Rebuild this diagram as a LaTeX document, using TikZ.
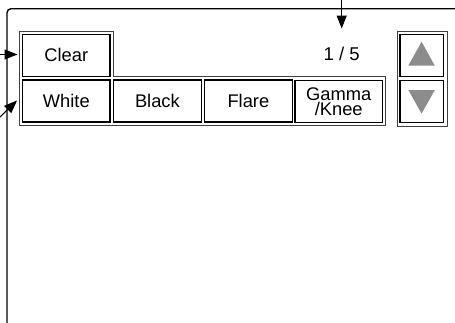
\documentclass[tikz,border=0pt]{standalone}
\usepackage{fontspec}
\setmainfont{Liberation Sans}
\usetikzlibrary{arrows.meta}
\tikzset{
  btn/.style={draw=black, line width=1.2pt, inner sep=0pt, outer sep=0pt,
    minimum width=87.5pt, minimum height=42pt, align=center,
    font=\fontsize{18.3}{15.5}\selectfont},
  arrbtn/.style={btn, minimum width=43.3pt},
  frame/.style={draw=black!75, line width=0.9pt},
  leader/.style={line width=1.1pt, -{Triangle[length=13pt,width=10pt]}},
  screen/.style={line width=1.4pt, rounded corners=4pt},
  tri/.style={fill=black!45, draw=none}
}
\begin{document}
\begin{tikzpicture}[x=1pt,y=-1pt]
\useasboundingbox (0,0) rectangle (455,322);
% screen outline
\draw[screen] (458,8.7) -- (7,8.7) -- (7,325);
% group frames
\draw[frame] (19,31) -- (113.7,31) -- (113.7,76.3) -- (385.7,76.3) -- (385.7,125.7) -- (19,125.7) -- cycle;
\draw[frame] (397,31) rectangle (447.3,126.7);
% buttons
\node[btn] (clear) at (66.3,55.3) {Clear};
\node[btn] (white) at (66.3,100.9) {White};
\node[btn] (black) at (157.4,100.9) {Black};
\node[btn] (flare) at (248.4,100.9) {Flare};
\node[btn] (gamma) at (338.7,101.5) {Gamma\\/Knee};
\node[arrbtn] (up) at (421.7,55.3) {};
\node[arrbtn] (down) at (421.7,101.2) {};
\fill[tri] (408.3,65.7) -- (434.8,65.7) -- (421.6,41.7) -- cycle;
\fill[tri] (408.3,90) -- (434.8,90) -- (421.6,113.6) -- cycle;
% page counter
\node[inner sep=0pt, font=\fontsize{18.5}{18.5}\selectfont] (page) at (341.7,54) {1 / 5};
% leaders
\coordinate (t1) at (0,54.5);
\coordinate (h1) at (17.5,54.5);
\coordinate (t2) at (0,117);
\coordinate (h2) at (17,100.5);
\coordinate (t3) at (341.7,0);
\coordinate (h3) at (341.7,28.5);
\draw[leader] (t1) -- (h1);
\draw[leader] (t2) -- (h2);
\draw[leader] (t3) -- (h3);
\end{tikzpicture}
\end{document}
